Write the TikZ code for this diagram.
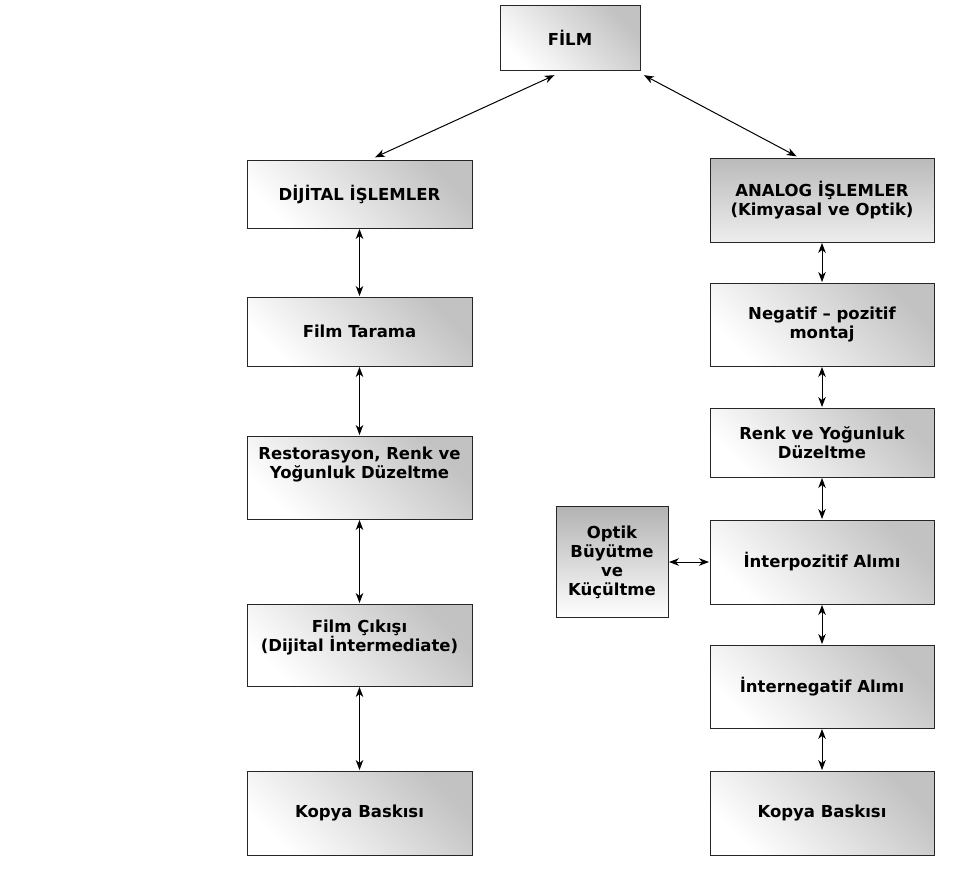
\documentclass[tikz,border=0pt]{standalone}
\usepackage{fontspec}
\setmainfont{DejaVu Sans}
\usepackage{tikz}
\usetikzlibrary{arrows,arrows.meta}

\begin{document}
\begin{tikzpicture}[<->,>={Stealth[length=10pt,width=7.5pt,inset=3pt]},shorten >=0.5pt,shorten <=0.5pt,x=1pt,y=1pt,
  line width=1pt,
  step box/.style={rectangle,draw=black!85,line width=0.9pt,top color=black!24,bottom color=white,
    shading angle=-45,font=\fontsize{16.5}{19}\selectfont\bfseries,align=center,
    minimum width=225pt,inner sep=2pt},
  side box/.style={step box,minimum width=112pt,minimum height=111pt,shading angle=60,top color=black!30}]

  \useasboundingbox (0,0) rectangle (979,-875);

  \node[step box,minimum width=140pt,minimum height=65pt] (film) at (570,-38) {FİLM};

  % dijital
  \node[step box,minimum height=68pt] (dig) at (359.5,-194) {DİJİTAL İŞLEMLER};
  \node[step box,minimum height=69pt] (tarama) [below of=dig,node distance=137.5pt] {Film Tarama};
  \node[step box,minimum height=83pt] (resto) [below of=tarama,node distance=146pt]
     {Restorasyon, Renk ve\\Yoğunluk Düzeltme\\[11pt]\mbox{}};
  \node[step box,minimum height=82pt] (cikis) [below of=resto,node distance=167.5pt]
     {Film Çıkışı\\(Dijital İntermediate)\\[-1pt]\mbox{}};
  \node[step box,minimum height=84pt] (kopya1) [below of=cikis,node distance=168pt] {Kopya Baskısı};

  % analog
  \node[step box,minimum width=224pt,minimum height=84pt,top color=black!27,bottom color=black!7] (analog) at (822,-200)
     {ANALOG İŞLEMLER\\(Kimyasal ve Optik)};
  \node[step box,minimum width=224pt,minimum height=83pt] (negatif) [below of=analog,node distance=124.5pt]
     {Negatif – pozitif\\montaj};
  \node[step box,minimum width=224pt,minimum height=69pt] (renk) [below of=negatif,node distance=118pt]
     {Renk ve Yoğunluk\\Düzeltme};
  \node[step box,minimum width=224pt,minimum height=84pt] (interpoz) [below of=renk,node distance=119.5pt]
     {İnterpozitif Alımı};
  \node[step box,minimum width=224pt,minimum height=83pt] (interneg) [below of=interpoz,node distance=124.5pt]
     {İnternegatif Alımı};
  \node[step box,minimum width=224pt,minimum height=84pt] (kopya2) [below of=interneg,node distance=126.5pt]
     {Kopya Baskısı};

  \node[side box] (optik) [left of=interpoz,node distance=210pt] {Optik\\Büyütme\\ve\\Küçültme};

  \path
    ([xshift=-15pt,yshift=-4pt]film.south) edge ([xshift=15pt,yshift=2pt]dig.north)
    ([xshift=3pt,yshift=-4pt]film.south east) edge ([xshift=-25pt,yshift=1pt]analog.north)

    (dig) edge (tarama)
    (tarama) edge (resto)
    (resto) edge (cikis)
    (cikis) edge (kopya1)

    (analog) edge (negatif)
    (negatif) edge (renk)
    (renk) edge (interpoz)
    (interpoz) edge (interneg)
    (interneg) edge (kopya2)
    (optik) edge (interpoz);

\end{tikzpicture}
\end{document}
